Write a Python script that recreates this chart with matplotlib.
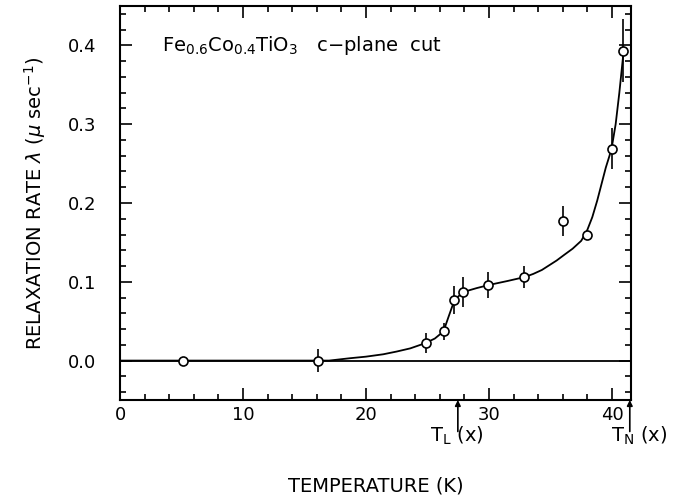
import numpy as np
import matplotlib.pyplot as plt
from matplotlib.ticker import MultipleLocator

plt.rcParams['font.family'] = ['DejaVu Sans']

# Datos medidos (puntos con barras de error)
temp = [5.15, 16.07, 24.84, 26.33, 27.15, 27.87, 29.94, 32.87, 36.0, 37.95, 39.98, 40.93]
lam = [0.0, 0.0, 0.022, 0.037, 0.077, 0.087, 0.096, 0.106, 0.177, 0.160, 0.269, 0.393]
lam_err = [0.004, 0.015, 0.013, 0.011, 0.018, 0.019, 0.017, 0.014, 0.019, 0.006, 0.026, 0.040]

# Curva guia
curve_t = [0, 17, 18.7, 20.0, 21.4, 22.5, 23.6, 24.8, 25.6, 26.3, 26.7, 27.2, 27.9,
           29.0, 30.0, 31.5, 32.9, 33.6, 34.3, 34.8, 35.5, 36.1, 36.8, 37.5, 38.0,
           38.4, 38.8, 39.2, 39.5, 39.8, 40.0, 40.3, 40.6, 40.95]
curve_l = [0, 0, 0.003, 0.005, 0.008, 0.0115, 0.0155, 0.022, 0.028, 0.037, 0.055, 0.077, 0.087,
           0.092, 0.096, 0.101, 0.106, 0.110, 0.115, 0.120, 0.127, 0.134, 0.142, 0.152, 0.166,
           0.182, 0.203, 0.227, 0.245, 0.260, 0.272, 0.300, 0.340, 0.393]

t_l = 27.47
t_n = 41.45

fig = plt.figure(figsize=(6.83, 5.03), dpi=100)
ax = fig.add_axes([0.1757, 0.2048, 0.7482, 0.7832])

ax.axhline(0, color='black', lw=1.3)
ax.plot(curve_t, curve_l, color='black', lw=1.3)
ax.errorbar(temp, lam, yerr=lam_err, fmt='o', mfc='white', mec='black', mew=1.2,
            ms=6.5, ecolor='black', elinewidth=1.2, capsize=0, zorder=3)

ax.set_xlim(0, 41.55)
ax.set_ylim(-0.05, 0.45)
ax.xaxis.set_major_locator(MultipleLocator(10))
ax.xaxis.set_minor_locator(MultipleLocator(2))
ax.yaxis.set_major_locator(MultipleLocator(0.1))
ax.yaxis.set_minor_locator(MultipleLocator(0.02))
ax.set_yticks([0.0, 0.1, 0.2, 0.3, 0.4])
ax.set_yticklabels(['0.0', '0.1', '0.2', '0.3', '0.4'])
ax.tick_params(which='both', direction='in', top=True, right=True, width=1.2,
               labelsize=13)
ax.tick_params(which='major', length=8.5)
ax.tick_params(which='minor', length=4.5)
ax.tick_params(axis='y', pad=17)
ax.tick_params(axis='x', pad=4)
for s in ax.spines.values():
    s.set_linewidth(1.5)

ax.set_xlabel('TEMPERATURE (K)', fontsize=14, labelpad=38)
ax.set_ylabel(r'RELAXATION RATE $\lambda$ ($\mu$ sec$^{-1}$)', fontsize=14, labelpad=14)

ax.text(3.4, 0.4, r'Fe$_{0.6}$Co$_{0.4}$TiO$_3$   c$-$plane  cut', fontsize=14,
        va='center', ha='left')

# Flechas de T_L y T_N
for t, lab, dx in [(t_l, r'T$_\mathrm{L}$ (x)', -2.3), (t_n, r'T$_\mathrm{N}$ (x)', -1.5)]:
    ax.annotate('', xy=(t, -0.05), xytext=(t, -0.09), annotation_clip=False,
                arrowprops=dict(arrowstyle='-|>', color='black', lw=1.2,
                                mutation_scale=8, shrinkA=0, shrinkB=0))
    ax.text(t + dx, -0.095, lab, fontsize=14, ha='left', va='center', clip_on=False)

fig.savefig('out.png', dpi=100)
